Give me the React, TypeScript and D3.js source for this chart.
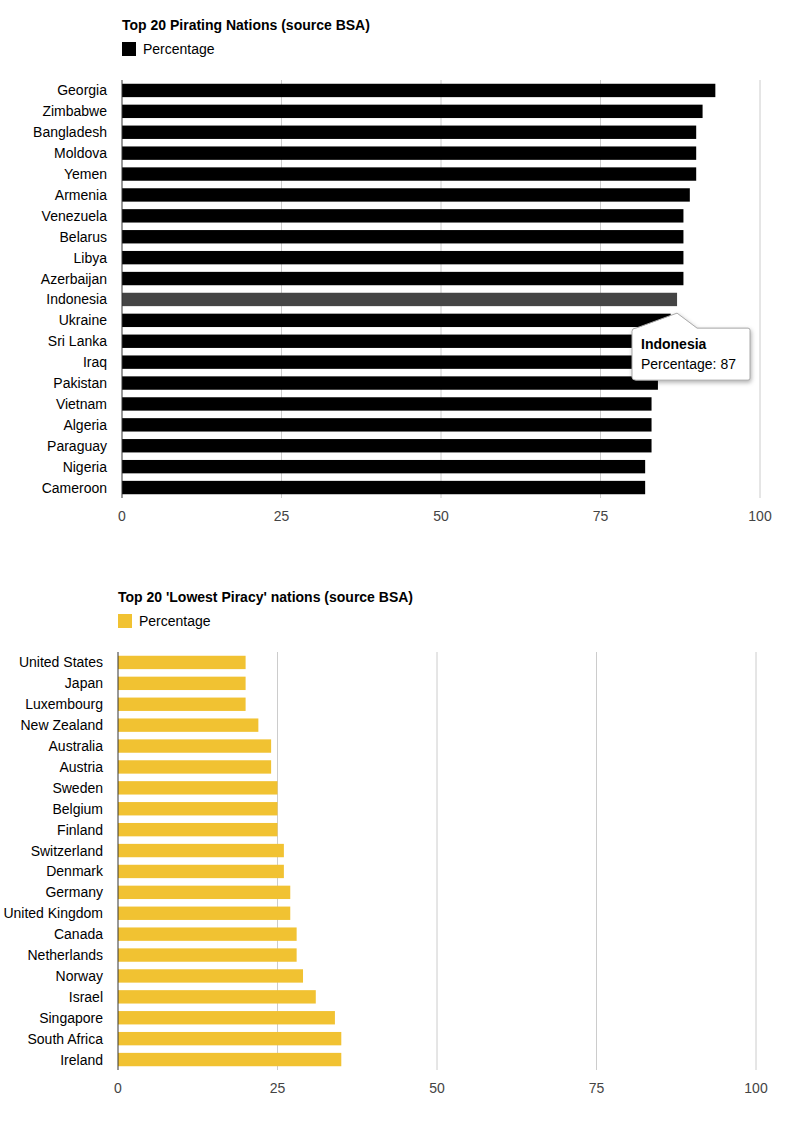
import * as d3 from "d3";

const topCountries = ["Georgia","Zimbabwe","Bangladesh","Moldova","Yemen","Armenia","Venezuela","Belarus","Libya","Azerbaijan","Indonesia","Ukraine","Sri Lanka","Iraq","Pakistan","Vietnam","Algeria","Paraguay","Nigeria","Cameroon"];
const topValues = [93,91,90,90,90,89,88,88,88,88,87,86,86,85,84,83,83,83,82,82];
const lowCountries = ["United States","Japan","Luxembourg","New Zealand","Australia","Austria","Sweden","Belgium","Finland","Switzerland","Denmark","Germany","United Kingdom","Canada","Netherlands","Norway","Israel","Singapore","South Africa","Ireland"];
const lowValues = [20,20,20,22,24,24,25,25,25,26,26,27,27,28,28,29,31,34,35,35];
const ticks = [0,25,50,75,100];
const font = "Liberation Sans, Arial, sans-serif";

function Chart({ title, names, values, color, x0, top, highlight }: any) {
  const x = d3.scaleLinear().domain([0, 100]).range([x0, x0 + 638]);
  const y = d3.scaleBand().domain(names).range([top + 85, top + 503]).paddingInner(0.36).paddingOuter(0.18);
  return (
    <g fontFamily={font}>
      <text x={x0} y={top + 35} fontSize={14} fontWeight="bold">{title}</text>
      <rect x={x0} y={top + 47} width={14} height={14} fill={color} />
      <text x={x0 + 21} y={top + 59} fontSize={14}>Percentage</text>
      {ticks.map((t) => (
        <g key={t}>
          {t > 0 && <line x1={x(t)} x2={x(t)} y1={top + 85} y2={top + 503} stroke="#ccc" />}
          <text x={x(t)} y={top + 526} fontSize={14} textAnchor="middle" fill="#444">{t}</text>
        </g>
      ))}
      {names.map((n: string, i: number) => (
        <g key={n}>
          <rect x={x(0)} y={y(n)} width={x(values[i]) - x(0)} height={y.bandwidth()}
            fill={n === highlight ? "#444" : color} />
          <text x={x0 - 15} y={y(n)! + y.bandwidth() / 2 + 5} fontSize={14} textAnchor="end">{n}</text>
        </g>
      ))}
      <line x1={x(0)} x2={x(0)} y1={top + 85} y2={top + 503} stroke="#333" />
    </g>
  );
}

export default function App() {
  const x = d3.scaleLinear().domain([0, 100]).range([122, 760]);
  const y = d3.scaleBand().domain(topCountries).range([85, 503]).paddingInner(0.36).paddingOuter(0.18);
  const hi = topCountries.indexOf("Indonesia");
  const px = x(topValues[hi]);
  const py = y("Indonesia")! + y.bandwidth();
  return (
    <svg width={791} height={1129} style={{ position: "absolute", left: 0, top: 0 }}>
      <rect width={791} height={1129} fill="#fff" />
      <Chart title="Top 20 Pirating Nations (source BSA)" names={topCountries} values={topValues} color="#000" x0={122} top={-5} highlight="Indonesia" />
      <Chart title="Top 20 'Lowest Piracy' nations (source BSA)" names={lowCountries} values={lowValues} color="#f1c232" x0={118} top={567} />
      <g fontFamily={font}>
        <path d={`M636,${py + 17} L${px},${py + 2} L${px + 20},${py + 17} L748,${py + 17} Q750,${py + 17} 750,${py + 19} L750,${py + 67} Q750,${py + 69} 748,${py + 69} L636,${py + 69} Q632,${py + 69} 632,${py + 66} L632,${py + 20} Q632,${py + 17} 636,${py + 17} Z`}
          fill="#fff" stroke="#aaa" filter="drop-shadow(1px 2px 2px rgba(0,0,0,0.3))" />
        <text x={641} y={py + 38} fontSize={14} fontWeight="bold">Indonesia</text>
        <text x={641} y={py + 58} fontSize={14}>Percentage: {topValues[hi]}</text>
      </g>
    </svg>
  );
}
